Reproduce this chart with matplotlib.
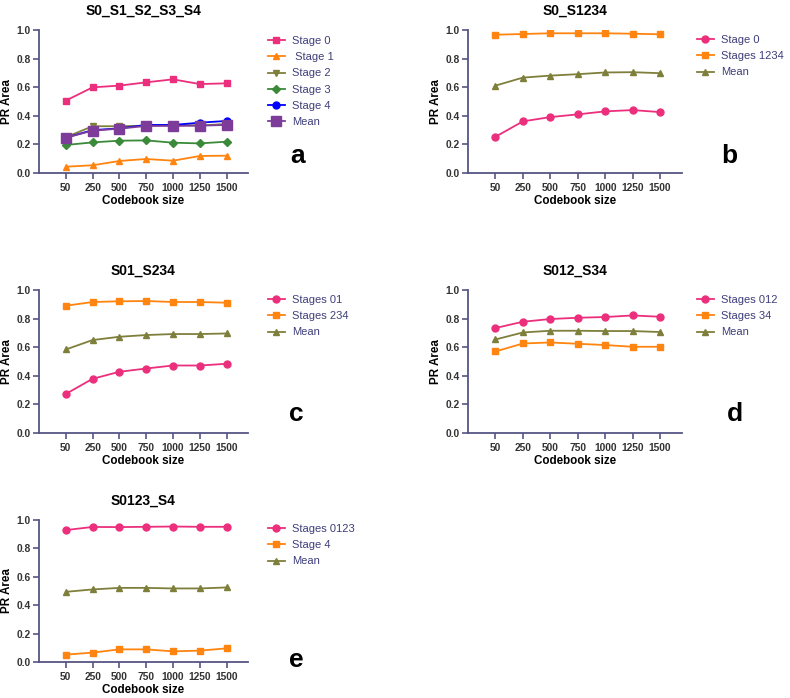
import matplotlib
matplotlib.use("Agg")
import matplotlib.pyplot as plt

plt.rcParams["font.family"] = ["Liberation Sans", "DejaVu Sans"]

codebook = ["50", "250", "500", "750", "1000", "1250", "1500"]

# panel a
a_stage0 = [0.506, 0.599, 0.611, 0.634, 0.655, 0.622, 0.627]
a_stage1 = [0.044, 0.054, 0.084, 0.098, 0.086, 0.119, 0.121]
a_stage2 = [0.250, 0.327, 0.327, 0.331, 0.338, 0.332, 0.343]
a_stage3 = [0.196, 0.214, 0.226, 0.228, 0.212, 0.207, 0.219]
a_stage4 = [0.247, 0.300, 0.312, 0.336, 0.336, 0.352, 0.364]
a_mean = [0.247, 0.296, 0.310, 0.329, 0.329, 0.331, 0.336]

# panel b
b_stage0 = [0.253, 0.361, 0.391, 0.410, 0.431, 0.440, 0.426]
b_stages1234 = [0.967, 0.972, 0.977, 0.977, 0.977, 0.974, 0.970]
b_mean = [0.611, 0.667, 0.681, 0.691, 0.703, 0.705, 0.698]

# panel c
c_stages01 = [0.273, 0.379, 0.428, 0.451, 0.472, 0.472, 0.484]
c_stages234 = [0.890, 0.916, 0.921, 0.923, 0.916, 0.916, 0.911]
c_mean = [0.584, 0.650, 0.673, 0.685, 0.692, 0.692, 0.696]

# panel d
d_stages012 = [0.734, 0.778, 0.797, 0.806, 0.811, 0.822, 0.813]
d_stages34 = [0.570, 0.626, 0.633, 0.624, 0.615, 0.603, 0.603]
d_mean = [0.654, 0.703, 0.715, 0.715, 0.713, 0.713, 0.706]

# panel e
e_stages0123 = [0.929, 0.951, 0.950, 0.952, 0.954, 0.952, 0.952]
e_stage4 = [0.052, 0.066, 0.089, 0.089, 0.075, 0.080, 0.096]
e_mean = [0.494, 0.511, 0.522, 0.522, 0.518, 0.518, 0.525]

PINK = "#EC2F7C"
ORANGE = "#FF8410"
OLIVE = "#7F7F3C"
GREEN = "#3A8A3A"
BLUE = "#0000FF"
PURPLE = "#7E3C9A"
SPINE = "#555585"
LEGTXT = "#3E3E7A"
TICKTXT = "#333333"

fig = plt.figure(figsize=(7.9, 6.98), dpi=100)
W, H = 790.0, 698.0


def make_axes(left, top, right, bottom):
    return fig.add_axes([left / W, 1 - bottom / H, (right - left) / W, (bottom - top) / H])


def style(ax, title, letter, letter_xy, leg_xy):
    ax.set_xlim(-1, 6.8)
    ax.set_ylim(0, 1.0)
    ax.set_yticks([0, 0.2, 0.4, 0.6, 0.8, 1.0])
    ax.set_yticklabels(["0.0", "0.2", "0.4", "0.6", "0.8", "1.0"])
    ax.set_xticks(range(len(codebook)))
    ax.set_xticklabels(codebook)
    for s in ["top", "right"]:
        ax.spines[s].set_visible(False)
    for s in ["left", "bottom"]:
        ax.spines[s].set_color(SPINE)
        ax.spines[s].set_linewidth(1.3)
    ax.tick_params(color=SPINE, width=1.2, length=4, labelsize=7.4, labelcolor=TICKTXT, pad=2)
    ax.tick_params(axis="x", pad=3)
    for lab in ax.get_xticklabels() + ax.get_yticklabels():
        lab.set_fontweight("bold")
    ax.set_title(title, fontsize=10, fontweight="bold", pad=11)
    ax.set_ylabel("PR Area", fontsize=8.4, fontweight="bold")
    ax.yaxis.set_label_coords(-26.0 / (ax.get_position().width * W), 0.5)
    ax.set_xlabel("Codebook size", fontsize=8.4, fontweight="bold", labelpad=1.5)
    leg = ax.legend(loc="upper left", bbox_to_anchor=(leg_xy[0] / W, 1 - leg_xy[1] / H),
                    bbox_transform=fig.transFigure, frameon=False, borderaxespad=0,
                    borderpad=0, fontsize=8, handlelength=1.5, handletextpad=0.65,
                    labelspacing=0.56)
    for t in leg.get_texts():
        t.set_color(LEGTXT)
    fig.text(letter_xy[0] / W, 1 - letter_xy[1] / H, letter, fontsize=19,
             fontweight="bold", ha="left", va="baseline")


x = range(len(codebook))
lw = 1.3

ax = make_axes(39, 30, 248, 173)
ax.plot(x, a_stage0, color=PINK, marker="s", ms=5, lw=lw, label="Stage 0")
ax.plot(x, a_stage1, color=ORANGE, marker="^", ms=5, lw=lw, label=" Stage 1")
ax.plot(x, a_stage2, color=OLIVE, marker="v", ms=5, lw=lw, label="Stage 2")
ax.plot(x, a_stage3, color=GREEN, marker="D", ms=4, lw=lw, label="Stage 3")
ax.plot(x, a_stage4, color=BLUE, marker="o", ms=5, lw=lw, label="Stage 4")
ax.plot(x, a_mean, color=PURPLE, marker="s", ms=7, lw=lw, label="Mean")
style(ax, "S0_S1_S2_S3_S4", "a", (290, 163), (268, 36))

ax = make_axes(468, 30, 682, 173)
ax.plot(x, b_stage0, color=PINK, marker="o", ms=5, lw=lw, label="Stage 0")
ax.plot(x, b_stages1234, color=ORANGE, marker="s", ms=5, lw=lw, label="Stages 1234")
ax.plot(x, b_mean, color=OLIVE, marker="^", ms=5, lw=lw, label="Mean")
style(ax, "S0_S1234", "b", (721, 163), (697, 35))

ax = make_axes(39, 290, 248, 433)
ax.plot(x, c_stages01, color=PINK, marker="o", ms=5, lw=lw, label="Stages 01")
ax.plot(x, c_stages234, color=ORANGE, marker="s", ms=5, lw=lw, label="Stages 234")
ax.plot(x, c_mean, color=OLIVE, marker="^", ms=5, lw=lw, label="Mean")
style(ax, "S01_S234", "c", (289, 421), (268, 295))

ax = make_axes(468, 290, 682, 433)
ax.plot(x, d_stages012, color=PINK, marker="o", ms=5, lw=lw, label="Stages 012")
ax.plot(x, d_stages34, color=ORANGE, marker="s", ms=5, lw=lw, label="Stages 34")
ax.plot(x, d_mean, color=OLIVE, marker="^", ms=5, lw=lw, label="Mean")
style(ax, "S012_S34", "d", (727, 421), (697, 295))

ax = make_axes(39, 520, 248, 662)
ax.plot(x, e_stages0123, color=PINK, marker="o", ms=5, lw=lw, label="Stages 0123")
ax.plot(x, e_stage4, color=ORANGE, marker="s", ms=5, lw=lw, label="Stage 4")
ax.plot(x, e_mean, color=OLIVE, marker="^", ms=5, lw=lw, label="Mean")
style(ax, "S0123_S4", "e", (289, 667), (268, 524))

fig.savefig("out.png", dpi=100)
